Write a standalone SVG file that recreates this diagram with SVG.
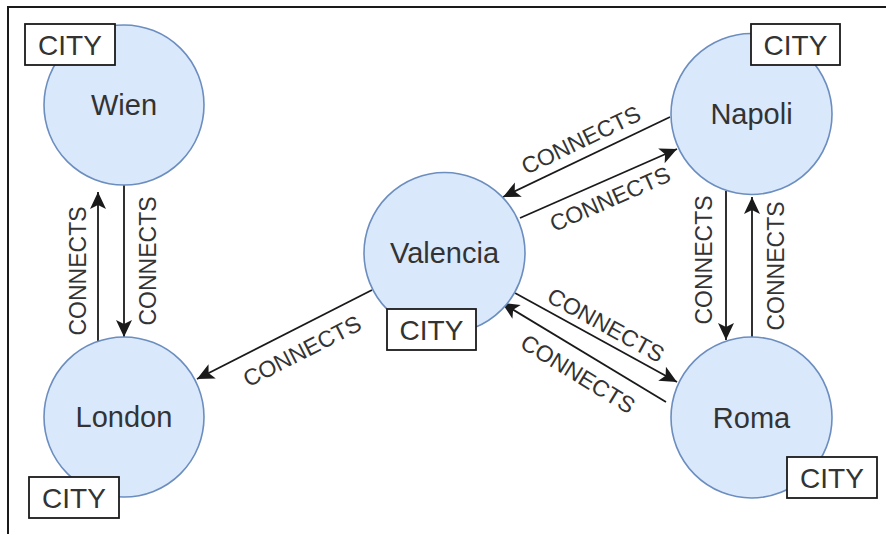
<svg xmlns="http://www.w3.org/2000/svg" width="886" height="534" viewBox="0 0 886 534">
  <style>
    .city { fill: #dae8fc; stroke: #6c8ebf; stroke-width: 1.6; }
    .name { font-family: "Liberation Sans", Arial, sans-serif; font-size: 29px; fill: #333333; text-anchor: middle; }
    .tag rect { fill: #ffffff; stroke: #1a1a1a; stroke-width: 1.8; }
    .tag text { font-family: "Liberation Sans", Arial, sans-serif; font-size: 28px; fill: #333333; text-anchor: middle; }
    .edge { stroke: #1a1a1a; stroke-width: 1.8; fill: none; marker-end: url(#arrow); }
    .lbl { font-family: "Liberation Sans", Arial, sans-serif; font-size: 23px; fill: #333333; text-anchor: middle; }
  </style>
  <defs>
    <marker id="arrow" markerUnits="userSpaceOnUse" markerWidth="20" markerHeight="20" viewBox="-18 -10 20 20" refX="0" refY="0" orient="auto">
      <path d="M0,0 L-17,-8 L-13,0 L-17,8 Z" fill="#1a1a1a"/>
    </marker>
  </defs>
  <rect width="886" height="534" fill="#ffffff"/>
  <!-- outer frame (top and left edges) -->
  <path d="M8,534 L8,7 L886,7" fill="none" stroke="#1a1a1a" stroke-width="2"/>

  <g id="connectors">
    <!-- Wien / London -->
    <line class="edge" x1="124" y1="185" x2="124" y2="337"/>
    <line class="edge" x1="98" y1="341" x2="98" y2="192"/>
    <text class="lbl" transform="translate(78,271) rotate(-90)" y="8">CONNECTS</text>
    <text class="lbl" transform="translate(148,261) rotate(-90)" y="8">CONNECTS</text>
    <!-- Valencia -> London -->
    <line class="edge" x1="372" y1="290" x2="197" y2="379"/>
    <text class="lbl" transform="translate(302,351) rotate(-27)" y="8">CONNECTS</text>
    <!-- Napoli / Valencia -->
    <line class="edge" x1="670" y1="117" x2="503" y2="197"/>
    <text class="lbl" transform="translate(581,140) rotate(-25.6)" y="8">CONNECTS</text>
    <line class="edge" x1="520" y1="218" x2="677" y2="149"/>
    <text class="lbl" transform="translate(610,199) rotate(-23.7)" y="8">CONNECTS</text>
    <!-- Valencia / Roma -->
    <line class="edge" x1="515" y1="293" x2="677" y2="382"/>
    <text class="lbl" transform="translate(606,325) rotate(28.8)" y="8">CONNECTS</text>
    <line class="edge" x1="666" y1="402" x2="502" y2="303"/>
    <text class="lbl" transform="translate(578,374) rotate(31.5)" y="8">CONNECTS</text>
    <!-- Napoli / Roma -->
    <line class="edge" x1="726" y1="191" x2="726" y2="340"/>
    <line class="edge" x1="752" y1="337" x2="752" y2="197"/>
    <text class="lbl" transform="translate(704,260) rotate(-90)" y="8">CONNECTS</text>
    <text class="lbl" transform="translate(776,266) rotate(-90)" y="8">CONNECTS</text>
  </g>

  <g id="wien">
    <circle class="city" cx="124" cy="105" r="80"/>
    <text class="name" x="124" y="115">Wien</text>
    <g class="tag"><rect x="25" y="24" width="90" height="41"/><text x="70" y="55">CITY</text></g>
  </g>
  <g id="london">
    <circle class="city" cx="124" cy="417" r="80"/>
    <text class="name" x="124" y="427">London</text>
    <g class="tag"><rect x="29" y="477" width="90" height="41"/><text x="74" y="508">CITY</text></g>
  </g>
  <g id="valencia">
    <circle class="city" cx="444.5" cy="253" r="80.5"/>
    <text class="name" x="444.5" y="263">Valencia</text>
    <g class="tag"><rect x="387" y="309" width="89" height="41"/><text x="431.5" y="340">CITY</text></g>
  </g>
  <g id="napoli">
    <circle class="city" cx="751.5" cy="114" r="80.5"/>
    <text class="name" x="751.5" y="124">Napoli</text>
    <g class="tag"><rect x="751" y="24" width="89" height="41"/><text x="795.5" y="55">CITY</text></g>
  </g>
  <g id="roma">
    <circle class="city" cx="751.5" cy="417.5" r="80.5"/>
    <text class="name" x="751.5" y="427.5">Roma</text>
    <g class="tag"><rect x="787" y="457" width="90" height="41"/><text x="832" y="488">CITY</text></g>
  </g>
</svg>
